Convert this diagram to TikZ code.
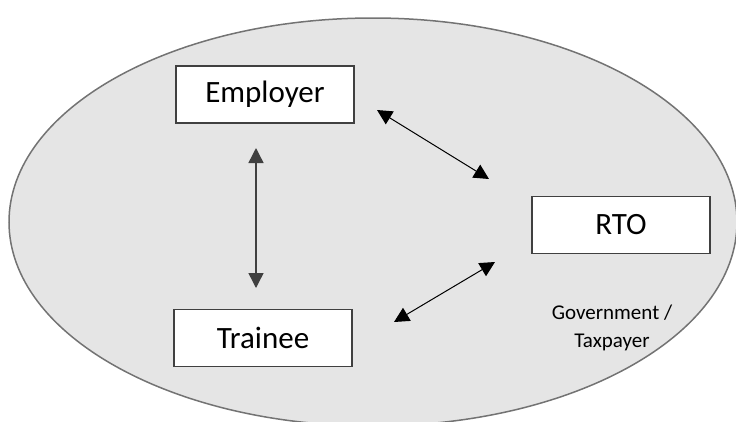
\documentclass[tikz,border=0pt]{standalone}
\usepackage{fontspec}
\setmainfont{Carlito}
\usetikzlibrary{arrows.meta}
\begin{document}
\begin{tikzpicture}[x=1pt,y=-1pt,
  party/.style={draw=black!75,line width=1.2pt,fill=white,minimum width=178pt,minimum height=57pt,font=\fontsize{31}{36}\selectfont,inner sep=0pt},
  link/.style={line width=1pt,{Triangle[length=15pt,width=15pt]}-{Triangle[length=15pt,width=15pt]}}]
\useasboundingbox (0,0) rectangle (736,421);
\begin{scope}
\clip (0,0) rectangle (736,421);
\draw[fill=black!10,draw=black!55,line width=1.5pt] (373,222) ellipse [x radius=364, y radius=204];
\end{scope}
\node[party] (emp) at (265,94.5) {Employer};
\node[party] (trn) at (263,338) {Trainee};
\node[party] (rto) at (621,225) {RTO};
\node[align=center,font=\fontsize{21}{28}\selectfont] (gov) at (612,328) {Government /\\Taxpayer};
\coordinate (e1) at (377,110);
\coordinate (r1) at (489,179);
\coordinate (r2) at (495,262);
\coordinate (t1) at (394,322);
\coordinate (e2) at (256,148);
\coordinate (t2) at (256,288);
\draw[link] (e1) -- (r1);
\draw[link] (r2) -- (t1);
\draw[link,draw=black!75,line width=1.4pt] (e2) -- (t2);
\end{tikzpicture}
\end{document}
